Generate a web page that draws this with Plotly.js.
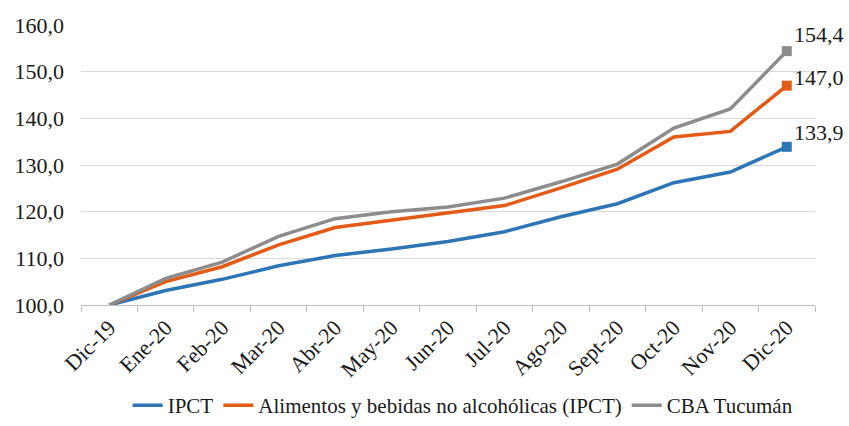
<!DOCTYPE html>
<html><head><meta charset="utf-8">
<script src="https://cdn.plot.ly/plotly-3.0.1.min.js"></script>
<style>html,body{margin:0;padding:0;background:#fff}#chart{width:849px;height:426px}</style>
</head><body><div id="chart"></div>
<script>
const categories = ['Dic-19','Ene-20','Feb-20','Mar-20','Abr-20','May-20','Jun-20','Jul-20','Ago-20','Sept-20','Oct-20','Nov-20','Dic-20'];
const ipct = [100.0, 103.1, 105.5, 108.4, 110.6, 112.0, 113.6, 115.7, 118.9, 121.7, 126.2, 128.5, 133.9];
const alimentos = [100.0, 105.0, 108.2, 112.9, 116.6, 118.2, 119.7, 121.3, 125.1, 129.1, 136.0, 137.2, 147.0];
const cba = [100.0, 105.7, 109.2, 114.7, 118.5, 120.0, 121.0, 122.9, 126.4, 130.2, 137.9, 142.0, 154.4];
const names = ['IPCT', 'Alimentos y bebidas no alcohólicas (IPCT)', 'CBA Tucumán'];
const colors = ['#2E75B6', '#E35B17', '#8C8C8C'];
const series = [ipct, alimentos, cba];
const labelShift = [[5, 0], [5, -6], [5, 2]];

const mkFont = (size) => ({family: 'Liberation Serif', size: size, color: '#1a1a1a'});
const last = categories.length - 1;
const traces = [];
series.forEach((s, i) => {
  traces.push({
    type: 'scatter', mode: 'lines', x: categories, y: s, name: names[i],
    line: {color: colors[i], width: 3.5}, hoverinfo: 'skip'
  });
});
series.forEach((s, i) => {
  traces.push({
    type: 'scatter', mode: 'markers', x: [categories[last]], y: [s[last]], showlegend: false,
    marker: {symbol: 'square', size: 10, color: colors[i]}, hoverinfo: 'skip'
  });
});
const annotations = series.map((s, i) => ({
  x: categories[last], y: s[last], xref: 'x', yref: 'y',
  text: s[last].toFixed(1).replace('.', ','), showarrow: false,
  xanchor: 'left', yanchor: 'bottom', xshift: labelShift[i][0], yshift: labelShift[i][1],
  font: mkFont(22)
}));
Plotly.newPlot('chart', traces, {
  width: 849, height: 426,
  margin: {l: 81, r: 34, t: 25, b: 121, autoexpand: false},
  separators: ',.',
  paper_bgcolor: '#fff', plot_bgcolor: '#fff',
  font: mkFont(22),
  showlegend: true,
  legend: {orientation: 'h', x: 0.52, xanchor: 'center', yref: 'container', y: 0.0, yanchor: 'bottom',
           font: mkFont(21), itemwidth: 30, traceorder: 'normal', tracegroupgap: 0},
  xaxis: {
    type: 'category', range: [-0.5, 12.5], tickangle: -45, ticks: 'outside', tickson: 'boundaries', ticklen: 6, tickcolor: '#BFBFBF',
    showline: true, linecolor: '#BFBFBF', linewidth: 1, showgrid: false, tickfont: mkFont(22), fixedrange: true, automargin: false
  },
  yaxis: {
    range: [100, 160], dtick: 10, tickformat: '.1f', showgrid: true, gridcolor: '#D9D9D9', gridwidth: 1,
    zeroline: false, showline: false, tickfont: mkFont(22), ticks: '', ticklabelstandoff: 16, fixedrange: true, automargin: false
  },
  annotations: annotations
}, {displayModeBar: false, staticPlot: true});
</script></body></html>
